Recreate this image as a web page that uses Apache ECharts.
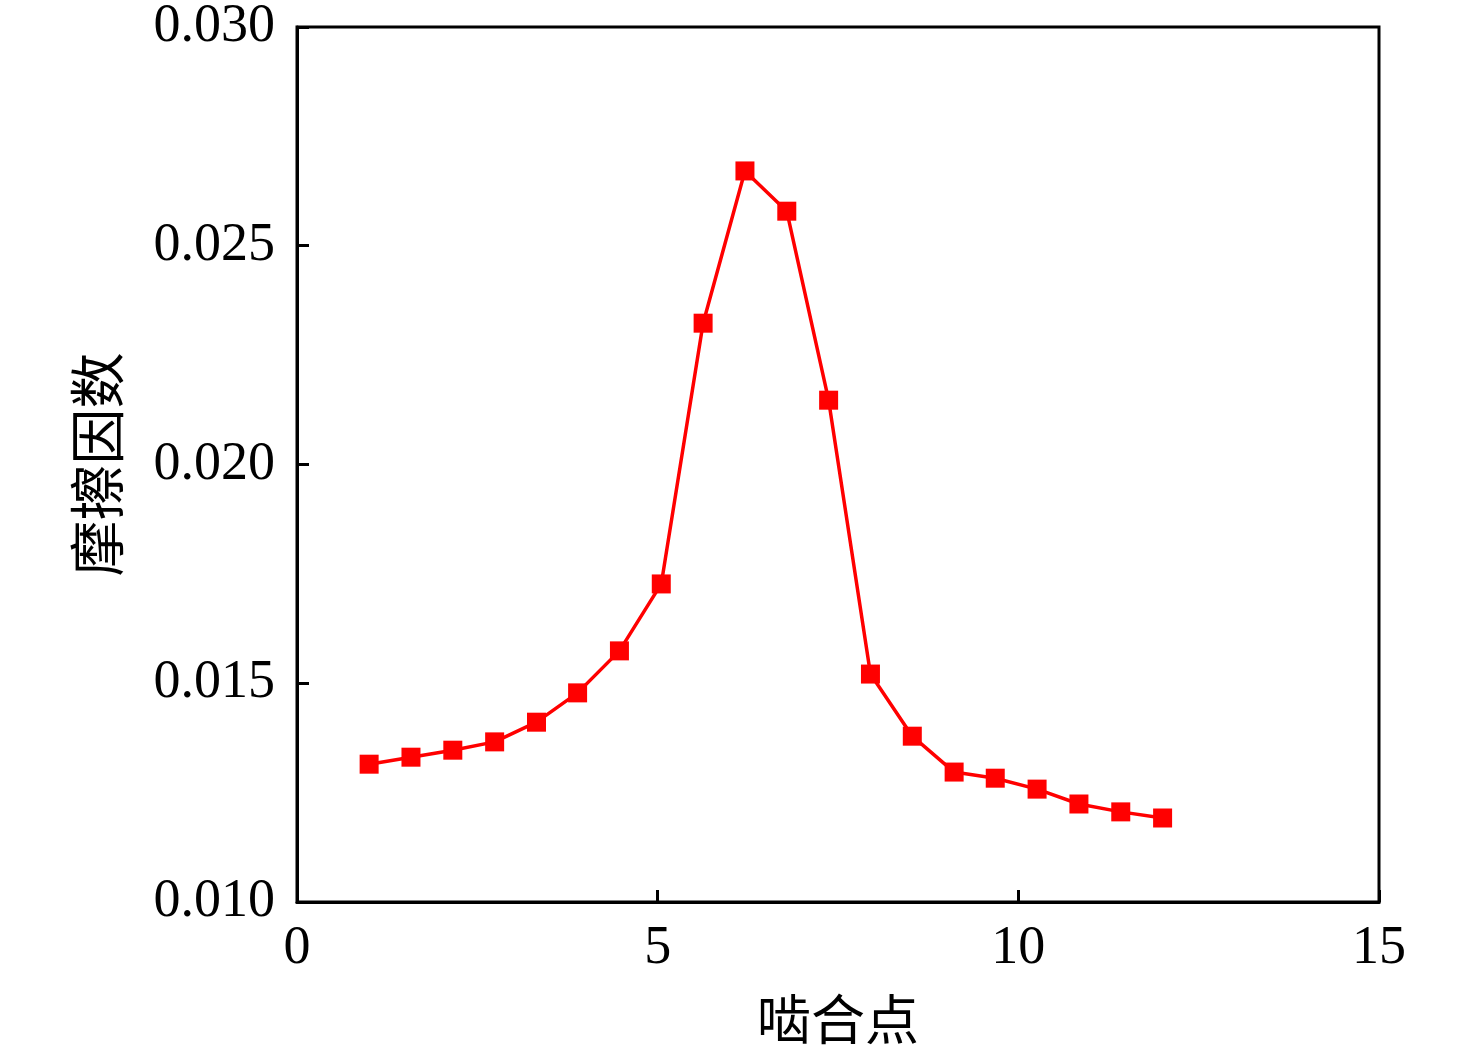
<!DOCTYPE html>
<html><head><meta charset="utf-8">
<script src="https://cdn.jsdelivr.net/npm/echarts@6/dist/echarts.min.js"></script>
<style>html,body{margin:0;padding:0;background:#fff}#c{width:1476px;height:1054px}</style>
</head><body><div id="c"></div>
<script>
var meshPoints = [1.00, 1.58, 2.16, 2.74, 3.32, 3.89, 4.47, 5.05, 5.63, 6.21, 6.79, 7.37, 7.95, 8.53, 9.11, 9.68, 10.26, 10.84, 11.42, 12.00];
var frictionCoef = [0.01315, 0.01331, 0.01347, 0.01366, 0.01411, 0.01478, 0.01574, 0.01727, 0.02323, 0.02671, 0.02579, 0.02147, 0.01521, 0.01379, 0.01297, 0.01283, 0.01258, 0.01224, 0.01206, 0.01192];
var xTicks = [0, 5, 10, 15];
var yTicks = [0.010, 0.015, 0.020, 0.025, 0.030];
var xName = '啮合点', yName = '摩擦因数';

var data = meshPoints.map(function(x, i){ return [x, frictionCoef[i]]; });
var chart = echarts.init(document.getElementById('c'));
var serif = '"Liberation Serif","Times New Roman",serif';
chart.setOption({
  animation: false,
  backgroundColor: '#fff',
  grid: {left: 297, right: 97, top: 27, bottom: 152, show: true, borderColor: '#000', borderWidth: 3, backgroundColor: 'transparent'},
  xAxis: {
    type: 'value', min: xTicks[0], max: xTicks[xTicks.length-1], interval: 5,
    name: xName, nameLocation: 'middle', nameGap: 90,
    nameTextStyle: {fontFamily: '"Noto Sans CJK SC"', fontSize: 54, color: '#000'},
    axisLine: {lineStyle: {color: '#000', width: 3}},
    axisTick: {inside: true, length: 12, lineStyle: {color: '#000', width: 3}},
    axisLabel: {fontFamily: serif, fontSize: 54, color: '#000', margin: 20},
    splitLine: {show: false}
  },
  yAxis: {
    type: 'value', min: yTicks[0], max: yTicks[yTicks.length-1], interval: 0.005,
    name: yName, nameLocation: 'middle', nameGap: 172, nameRotate: 90,
    nameTextStyle: {fontFamily: '"Noto Sans CJK SC"', fontSize: 56, color: '#000'},
    axisLine: {lineStyle: {color: '#000', width: 3}},
    axisTick: {inside: true, length: 12, lineStyle: {color: '#000', width: 3}},
    axisLabel: {fontFamily: serif, fontSize: 54, color: '#000', margin: 22,
      formatter: function(v){ return v.toFixed(3); }},
    splitLine: {show: false}
  },
  series: [{
    type: 'line', data: data,
    symbol: 'rect', symbolSize: 19,
    lineStyle: {color: '#ff0000', width: 3.5},
    itemStyle: {color: '#ff0000'}
  }]
});
</script></body></html>
